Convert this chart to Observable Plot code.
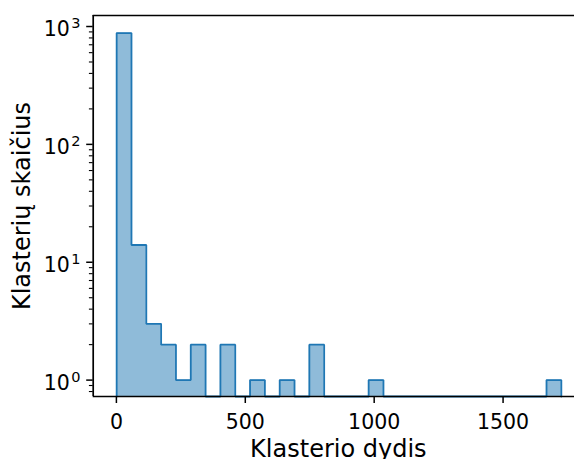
<!DOCTYPE html>
<html><head><meta charset="utf-8">
<script src="https://cdn.jsdelivr.net/npm/d3@7"></script>
<script src="https://cdn.jsdelivr.net/npm/@observablehq/plot@0.6"></script>
<style>body{margin:0;background:#fff} #chart svg{overflow:hidden;display:block}</style>
</head><body><div id="chart"></div><script>
// Histogram data (30 equal bins)
const binStart = 1;
const binWidth = 57.5;
const counts = [880,14,3,2,1,2,0,2,0,1,0,1,0,2,0,0,0,1,0,0,0,0,0,0,0,0,0,0,0,1];
// ticks / labels
const xTicks = [0, 500, 1000, 1500];
const yMajor = [1, 10, 100, 1000];
const yExp = ["0", "1", "2", "3"];
const xLabel = "Klasterio dydis";
const yLabel = "Klasterių skaičius";
const xDomain = [-90, 1812];
const yDomain = [0.726, 1240];

const yMinor = [];
for (const p of [0.1, 1, 10, 100, 1000]) for (let k = 2; k <= 9; k++) {
  const v = +(k * p).toPrecision(3);
  if (v > yDomain[0] && v < yDomain[1]) yMinor.push(v);
}

const floor = yDomain[0];
const pts = [];
counts.forEach((c, i) => {
  const x0 = binStart + i * binWidth, x1 = x0 + binWidth, y = c > 0 ? c : floor;
  pts.push({x: x0, y}, {x: x1, y});
});
const linePts = [{x: binStart, y: floor}, ...pts, {x: binStart + counts.length * binWidth, y: floor}];

const font = "DejaVu Sans";
const W = 574, H = 459, mL = 92.7, mT = 15, mB = 63, mR = -9;

const chart = Plot.plot({
  width: W, height: H,
  marginLeft: mL, marginTop: mT, marginBottom: mB, marginRight: mR,
  style: {fontFamily: font, background: "#fff", color: "#000"},
  x: {domain: xDomain, axis: null},
  y: {type: "log", domain: yDomain, axis: null},
  marks: [
    Plot.areaY(pts, {x: "x", y1: () => floor, y2: "y", fill: "#8fbbd9", curve: "linear"}),
    Plot.line(linePts, {x: "x", y: "y", stroke: "#1f77b4", strokeWidth: 1.8, strokeLinejoin: "miter", curve: "linear"}),
    // spines
    Plot.ruleX([xDomain[0]], {stroke: "#000", strokeWidth: 1.7}),
    Plot.ruleY([yDomain[0]], {stroke: "#000", strokeWidth: 1.7}),
    Plot.ruleY([yDomain[1]], {stroke: "#000", strokeWidth: 1.7}),
    // x ticks
    Plot.axisX(xTicks, {tickSize: 7, strokeWidth: 1.5, tickFormat: () => "", label: null, stroke: "#000"}),
    Plot.text(xTicks, {x: d => d, frameAnchor: "bottom", lineAnchor: "bottom", dy: 32.3, text: d => String(d), fontSize: 20.5, fill: "#000"}),
    // y ticks
    Plot.axisY(yMajor, {tickSize: 6.5, strokeWidth: 1.5, tickFormat: () => "", label: null, stroke: "#000"}),
    Plot.axisY(yMinor, {tickSize: 3.8, strokeWidth: 1.1, tickFormat: () => "", label: null, stroke: "#000"}),
    Plot.text(yMajor, {y: d => d, frameAnchor: "left", textAnchor: "end", lineAnchor: "bottom", dx: -23.4, dy: 9.7, text: () => "10", fontSize: 20.5, fill: "#000"}),
    Plot.text(yMajor, {y: d => d, frameAnchor: "left", textAnchor: "start", lineAnchor: "bottom", dx: -22, dy: 1.4, text: (d, i) => yExp[i], fontSize: 14.5, fill: "#000"}),
    // axis labels
    Plot.text([xLabel], {frameAnchor: "bottom", lineAnchor: "bottom", dy: 60.7, text: d => d, fontSize: 24, fill: "#000"}),
    Plot.text([yLabel], {frameAnchor: "left", textAnchor: "middle", rotate: -90, lineAnchor: "bottom", dx: -63.3, text: d => d, fontSize: 24, fill: "#000"})
  ]
});
document.getElementById("chart").appendChild(chart);
</script></body></html>
